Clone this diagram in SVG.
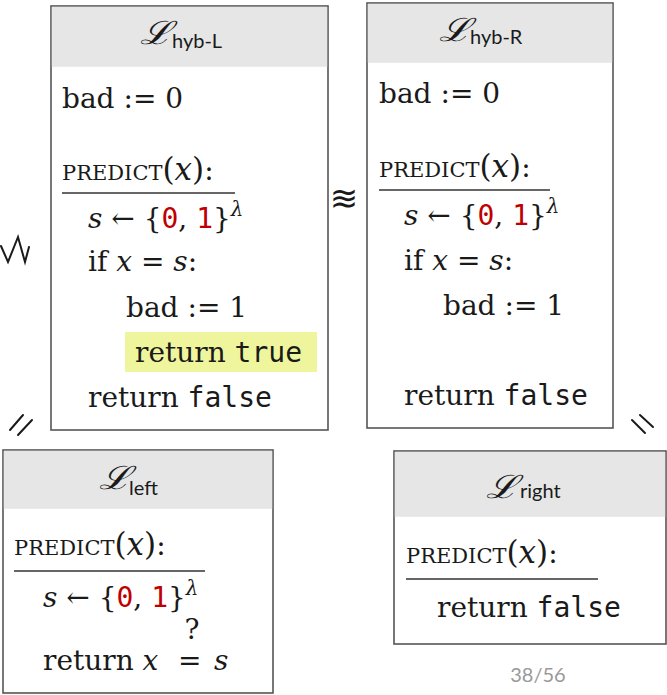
<svg xmlns="http://www.w3.org/2000/svg" width="667" height="695" viewBox="0 0 667 695">
<style>
.box{fill:#fff;stroke:#555;stroke-width:1.6}
.hdr{fill:#e6e6e6}
.t{font-family:"DejaVu Serif","Liberation Serif",serif;font-size:28px;fill:#1a1a1a}
.sc{font-size:21px}
.pa{font-size:31px}
.it{font-style:italic}
.m{font-family:"DejaVu Sans Mono","Liberation Mono",monospace;font-size:28px}
.red{fill:#c00000}
.L{font-family:"DejaVu Serif","Liberation Serif",serif;font-style:italic;font-size:32px;fill:#1a1a1a}
.sub{font-family:Lato,"Open Sans",sans-serif;font-size:20px;fill:#1a1a1a}
.ul{stroke:#333;stroke-width:1.6}
.rel{stroke:#1a1a1a;stroke-width:2;fill:none;stroke-linecap:round}
</style>
<rect width="667" height="695" fill="#fff"/>
<g id="hybL">
<rect class="box" x="51" y="6" width="277" height="424"/>
<rect class="hdr" x="51.8" y="6.8" width="275.4" height="60"/>
<text class="L" transform="translate(140,44) scale(1.2,1)">ℒ</text><text class="sub" x="172" y="48">hyb-L</text>
<text class="t" x="62" y="108">bad := 0</text>
<text class="t" x="62" y="180"><tspan class="sc">PREDICT</tspan><tspan class="pa">(<tspan class="it">x</tspan>)</tspan>:</text>
<line class="ul" x1="62" y1="193" x2="235" y2="193"/>
<text class="t" x="88" y="228"><tspan class="it">s</tspan> ← {<tspan class="m red">0</tspan>, <tspan class="m red">1</tspan>}<tspan class="it" font-size="20" dy="-12">λ</tspan></text>
<text class="t" x="88" y="271">if <tspan class="it">x</tspan> = <tspan class="it">s</tspan>:</text>
<text class="t" x="126" y="317">bad := 1</text>
<rect x="125" y="332" width="192" height="40" fill="#eef59c"/>
<text class="t" x="135" y="362">return <tspan class="m">true</tspan></text>
<text class="t" x="88" y="407">return <tspan class="m">false</tspan></text>
</g>
<g id="hybR">
<rect class="box" x="367" y="3" width="246" height="425"/>
<rect class="hdr" x="367.8" y="3.8" width="244.4" height="59"/>
<text class="L" transform="translate(439,41) scale(1.2,1)">ℒ</text><text class="sub" x="470" y="44">hyb-R</text>
<text class="t" x="379" y="103">bad := 0</text>
<text class="t" x="379" y="177"><tspan class="sc">PREDICT</tspan><tspan class="pa">(<tspan class="it">x</tspan>)</tspan>:</text>
<line class="ul" x1="379" y1="190" x2="550" y2="190"/>
<text class="t" x="404" y="225"><tspan class="it">s</tspan> ← {<tspan class="m red">0</tspan>, <tspan class="m red">1</tspan>}<tspan class="it" font-size="20" dy="-12">λ</tspan></text>
<text class="t" x="404" y="270">if <tspan class="it">x</tspan> = <tspan class="it">s</tspan>:</text>
<text class="t" x="443" y="315">bad := 1</text>
<text class="t" x="404" y="405">return <tspan class="m">false</tspan></text>
</g>
<g id="left">
<rect class="box" x="3" y="450" width="270" height="243"/>
<rect class="hdr" x="3.8" y="450.8" width="268.4" height="58"/>
<text class="L" transform="translate(99,489) scale(1.2,1)">ℒ</text><text class="sub" x="129" y="495">left</text>
<text class="t" x="14" y="555"><tspan class="sc">PREDICT</tspan><tspan class="pa">(<tspan class="it">x</tspan>)</tspan>:</text>
<line class="ul" x1="14" y1="571" x2="205" y2="571"/>
<text class="t" x="43" y="607"><tspan class="it">s</tspan> ← {<tspan class="m red">0</tspan>, <tspan class="m red">1</tspan>}<tspan class="it" font-size="20" dy="-12">λ</tspan></text>
<text class="t" x="43" y="670">return <tspan class="it">x</tspan></text>
<text class="t" x="178" y="670">=</text>
<text class="t it" x="214" y="670">s</text>
<text class="t" x="192" y="639" font-size="14" text-anchor="middle">?</text>
</g>
<g id="right">
<rect class="box" x="394" y="451" width="272" height="193"/>
<rect class="hdr" x="394.8" y="451.8" width="270.4" height="65"/>
<text class="L" transform="translate(486,498) scale(1.2,1)">ℒ</text><text class="sub" x="520" y="498">right</text>
<text class="t" x="406" y="563"><tspan class="sc">PREDICT</tspan><tspan class="pa">(<tspan class="it">x</tspan>)</tspan>:</text>
<line class="ul" x1="406" y1="579" x2="598" y2="579"/>
<text class="t" x="437" y="617">return <tspan class="m">false</tspan></text>
</g>
<g id="connectors">
<text x="344" y="210" font-family="DejaVu Sans,sans-serif" font-size="34" text-anchor="middle" fill="#1a1a1a">≋</text>
<polyline class="rel" points="1,246 8,262 18,237 25,262 29,247"/>
<line class="rel" x1="10" y1="430" x2="23" y2="415"/>
<line class="rel" x1="18" y1="435" x2="32" y2="420"/>
<line class="rel" x1="640" y1="415" x2="653" y2="427"/>
<line class="rel" x1="632" y1="420" x2="645" y2="433"/>
</g>
<text x="538" y="682" font-family="Lato,sans-serif" font-size="20" fill="#999" text-anchor="middle">38/56</text>
</svg>
